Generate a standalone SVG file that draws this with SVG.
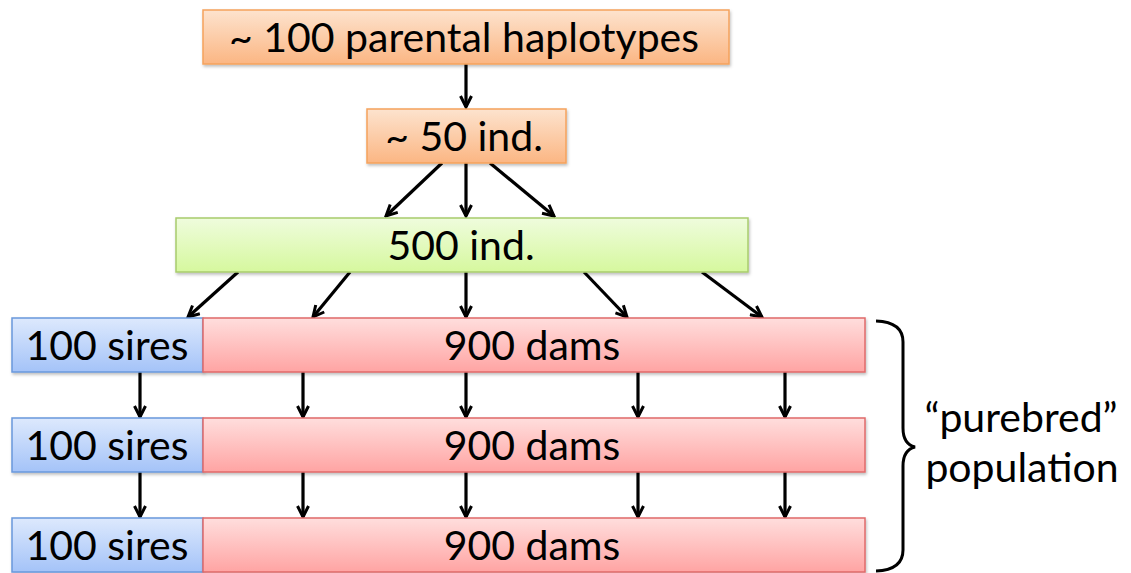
<svg xmlns="http://www.w3.org/2000/svg" width="1131" height="573" viewBox="0 0 1131 573">
<style>
text{font-family:"Lato","Open Sans","Liberation Sans",sans-serif;font-size:41px;fill:#000;text-anchor:middle}
.c{stroke:#000;stroke-width:3.2;fill:none;marker-end:url(#ah)}
.or{fill:url(#gO);stroke:#f5a25c;stroke-width:1.5}
.gr{fill:url(#gG);stroke:#a8cc6c;stroke-width:1.5}
.bl{fill:url(#gB);stroke:#6a98dc;stroke-width:1.5}
.rd{fill:url(#gR);stroke:#e06a6a;stroke-width:1.5}
</style>
<defs>
<linearGradient id="gO" x1="0" y1="0" x2="0" y2="1"><stop offset="0" stop-color="#fde3ce"/><stop offset="1" stop-color="#fbb683"/></linearGradient>
<linearGradient id="gG" x1="0" y1="0" x2="0" y2="1"><stop offset="0" stop-color="#effcdd"/><stop offset="1" stop-color="#d6f89e"/></linearGradient>
<linearGradient id="gB" x1="0" y1="0" x2="0" y2="1"><stop offset="0" stop-color="#dde9fd"/><stop offset="1" stop-color="#a4c3f8"/></linearGradient>
<linearGradient id="gR" x1="0" y1="0" x2="0" y2="1"><stop offset="0" stop-color="#ffdedd"/><stop offset="1" stop-color="#ffa4a3"/></linearGradient>
<marker id="ah" viewBox="0 0 14 14" refX="12" refY="7" markerWidth="14" markerHeight="14" markerUnits="userSpaceOnUse" orient="auto">
<polyline points="1,1.5 12,7 1,12.5" fill="none" stroke="#000" stroke-width="3"/>
</marker>
<filter id="sh" x="-5%" y="-10%" width="110%" height="130%"><feDropShadow dx="1" dy="2" stdDeviation="1.5" flood-color="#000" flood-opacity="0.25"/></filter>
</defs>
<g id="connectors">
<line class="c" x1="466" y1="64" x2="466" y2="107"/>
<line class="c" x1="466" y1="163" x2="466" y2="216"/>
<line class="c" x1="442" y1="163" x2="386" y2="216"/>
<line class="c" x1="490" y1="163" x2="554" y2="216"/>
<line class="c" x1="238" y1="272" x2="188" y2="317"/>
<line class="c" x1="350" y1="272" x2="313" y2="317"/>
<line class="c" x1="466" y1="272" x2="466" y2="317"/>
<line class="c" x1="584" y1="272" x2="627" y2="317"/>
<line class="c" x1="702" y1="272" x2="762" y2="317"/>
<line class="c" x1="140" y1="372" x2="140" y2="417"/>
<line class="c" x1="303" y1="372" x2="303" y2="417"/>
<line class="c" x1="466" y1="372" x2="466" y2="417"/>
<line class="c" x1="638" y1="372" x2="638" y2="417"/>
<line class="c" x1="785" y1="372" x2="785" y2="417"/>
<line class="c" x1="140" y1="472" x2="140" y2="517"/>
<line class="c" x1="303" y1="472" x2="303" y2="517"/>
<line class="c" x1="466" y1="472" x2="466" y2="517"/>
<line class="c" x1="638" y1="472" x2="638" y2="517"/>
<line class="c" x1="785" y1="472" x2="785" y2="517"/>
</g>
<g id="n-haplotypes"><rect class="or" filter="url(#sh)" x="203" y="10" width="526" height="54"/><text x="464" y="52">~ 100 parental haplotypes</text></g>
<g id="n-50ind"><rect class="or" filter="url(#sh)" x="367" y="109" width="199" height="54"/><text x="464" y="151">~ 50 ind.</text></g>
<g id="n-500ind"><rect class="gr" filter="url(#sh)" x="176" y="218" width="572" height="54"/><text x="461" y="260">500 ind.</text></g>
<g id="n-sires1"><rect class="bl" filter="url(#sh)" x="12" y="318" width="191" height="54"/><text x="107" y="360">100 sires</text></g>
<g id="n-dams1"><rect class="rd" filter="url(#sh)" x="203" y="318" width="662" height="54"/><text x="532" y="360">900 dams</text></g>
<g id="n-sires2"><rect class="bl" filter="url(#sh)" x="12" y="418" width="191" height="54"/><text x="107" y="460">100 sires</text></g>
<g id="n-dams2"><rect class="rd" filter="url(#sh)" x="203" y="418" width="662" height="54"/><text x="532" y="460">900 dams</text></g>
<g id="n-sires3"><rect class="bl" filter="url(#sh)" x="12" y="518" width="191" height="54"/><text x="107" y="560">100 sires</text></g>
<g id="n-dams3"><rect class="rd" filter="url(#sh)" x="203" y="518" width="662" height="54"/><text x="532" y="560">900 dams</text></g>
<g id="brace">
<path d="M876,321 Q903,322 903,342 L903,428 Q903,444 915,447 Q903,450 903,466 L903,550 Q903,570 876,571" fill="none" stroke="#000" stroke-width="3"/>
<text x="1021" y="432">“purebred”</text>
<text x="1022" y="482">population</text>
</g>
</svg>
